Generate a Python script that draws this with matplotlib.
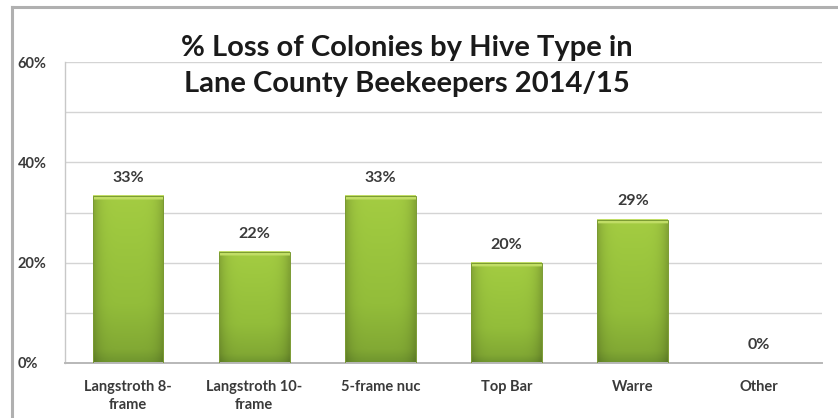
import numpy as np
import matplotlib
matplotlib.use("Agg")
import matplotlib.pyplot as plt
from matplotlib.colors import LinearSegmentedColormap

categories = ["Langstroth 8-\nframe", "Langstroth 10-\nframe", "5-frame nuc", "Top Bar", "Warre", "Other"]
loss_pct = [33.3, 22.2, 33.3, 20.0, 28.6, 0.0]
labels = ["33%", "22%", "33%", "20%", "29%", "0%"]
yticks = [0, 20, 40, 60]
yticklabels = ["0%", "20%", "40%", "60%"]
title = "% Loss of Colonies by Hive Type in\nLane County Beekeepers 2014/15"

W, H = 838, 418
fig = plt.figure(figsize=(W / 100, H / 100), dpi=100)
fig.patch.set_facecolor("white")

# outer chart border (left and top visible)
fig.add_artist(plt.Line2D([12 / W, 12 / W], [0, 1 - 7 / H], color="#b0b0b0", lw=2.2))
fig.add_artist(plt.Line2D([12 / W, 1], [1 - 7 / H, 1 - 7 / H], color="#b0b0b0", lw=2.2))

ax = fig.add_axes([65 / W, 1 - 363 / H, (822 - 65) / W, (363 - 62) / H])
ax.set_xlim(-0.5, len(categories) - 0.5)
ax.set_ylim(0, 60)
for s in ["top", "right"]:
    ax.spines[s].set_visible(False)
ax.spines["left"].set_color("#c8c8c8")
ax.spines["bottom"].set_color("#b8b8b8")
ax.spines["left"].set_linewidth(1.0)
ax.spines["bottom"].set_linewidth(1.4)

for g in range(10, 61, 10):
    ax.axhline(g, color="#d4d4d4", lw=1.0, zorder=0)

x = np.arange(len(categories))
bars = ax.bar(x, loss_pct, width=0.56, color="none", zorder=2)

# gradient fill for bars
vert = LinearSegmentedColormap.from_list(
    "v", [(0.0, "#6f952e"), (0.08, "#82a934"), (0.35, "#93bd3a"), (0.8, "#9ec83f"), (1.0, "#a4cc42")])
nx, ny = 40, 300
xs = np.linspace(-1, 1, nx)
ys = np.linspace(0, 1, ny)[:, None]
base = ys * np.ones((1, nx))
for b in bars:
    h = b.get_height()
    if h <= 0:
        continue
    x0 = b.get_x()
    w = b.get_width()
    rgb = vert(base)[..., :3]
    shade = 1 - 0.18 * np.abs(xs) ** 5
    rgb = rgb * shade[None, :, None]
    top_px = max(2, int(ny * 0.9 / h))
    rgb[-top_px:, :, :] = np.array([0.76, 0.87, 0.40])
    ax.imshow(rgb, extent=[x0, x0 + w, 0, h], origin="lower", aspect="auto",
              zorder=2, interpolation="bilinear")
    ax.add_patch(plt.Rectangle((x0, 0), w, h, fill=False, ec="#7a9a32", lw=0.7, zorder=3))

ax.set_xlim(-0.5, len(categories) - 0.5)
ax.set_ylim(0, 60)

for xi, v, lab in zip(x, loss_pct, labels):
    ax.text(xi, v + 3.6, lab, ha="center", va="center", fontsize=11.5,
            fontweight="bold", color="#3a3a3a", family="Lato")

ax.set_yticks(yticks)
ax.set_yticklabels(yticklabels, fontsize=10.5, fontweight="bold", color="#3a3a3a", family="Lato")
ax.set_xticks(x)
ax.set_xticklabels(categories, fontsize=10.5, fontweight="bold", color="#3a3a3a", family="Lato",
                   linespacing=1.35)
ax.tick_params(axis="both", length=0)
ax.tick_params(axis="x", pad=12)
for t in ax.get_yticklabels():
    t.set_horizontalalignment("left")
ax.yaxis.set_tick_params(pad=34)

fig.text(407 / W, 1 - 66 / H, title, ha="center", va="center", fontsize=21,
         fontweight="bold", color="#1a1a1a", family="Lato", linespacing=1.5)

fig.savefig("out.png", dpi=100, facecolor="white")
